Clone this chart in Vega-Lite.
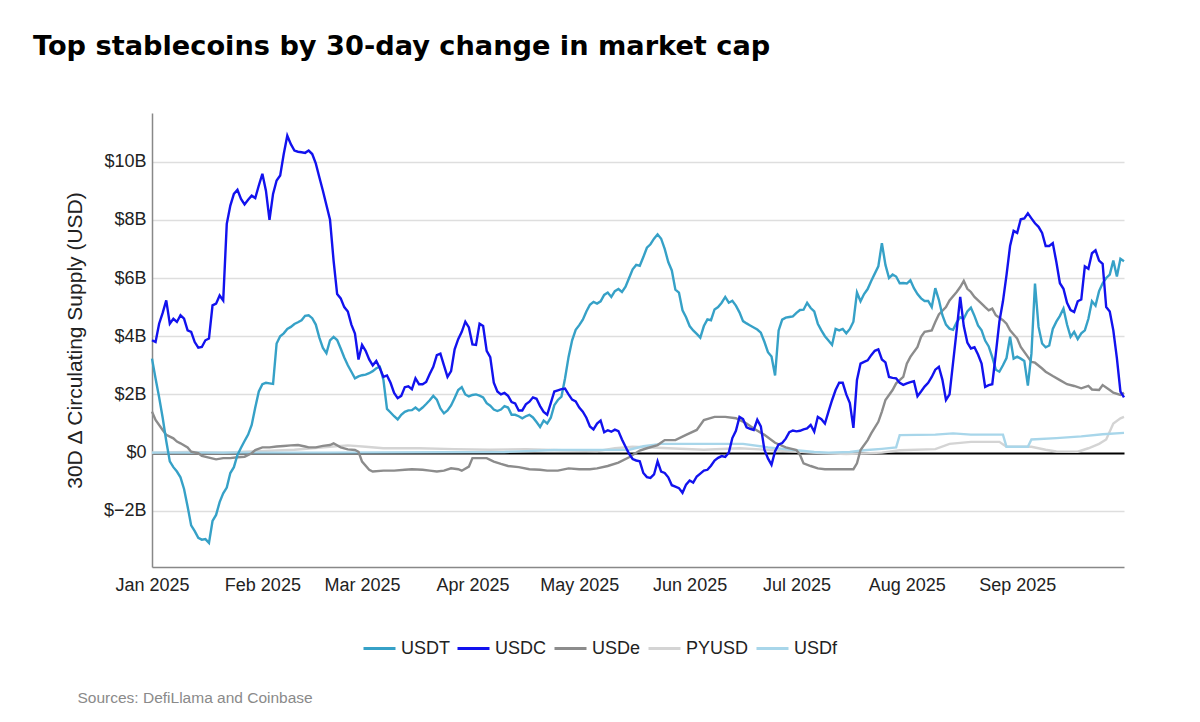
{
"$schema": "https://vega.github.io/schema/vega-lite/v6.json",
"width": 972, "height": 454,
"autosize": {"type": "none"},
"padding": {"left": 152, "top": 113, "right": 76, "bottom": 155},
"background": "white",
"title": {"text": "Top stablecoins by 30-day change in market cap", "anchor": "start", "frame": "group", "dx": -119, "offset": 52, "font": "DejaVu Sans", "fontSize": 27.2, "fontWeight": "bold", "color": "#000000"},
"config": {"view": {"stroke": null}, "font": "Liberation Sans"},
"data": {"format": {"parse": {"date": "date:'%Y-%j'"}}, "values": [
{"date":"2025-001","coin":"PYUSD","value":0.0},{"date":"2025-011","coin":"PYUSD","value":0.02},{"date":"2025-021","coin":"PYUSD","value":0.0},{"date":"2025-031","coin":"PYUSD","value":0.05},{"date":"2025-041","coin":"PYUSD","value":0.1},{"date":"2025-051","coin":"PYUSD","value":0.2},{"date":"2025-056","coin":"PYUSD","value":0.25},{"date":"2025-061","coin":"PYUSD","value":0.2},{"date":"2025-066","coin":"PYUSD","value":0.15},{"date":"2025-076","coin":"PYUSD","value":0.15},{"date":"2025-086","coin":"PYUSD","value":0.12},{"date":"2025-096","coin":"PYUSD","value":0.1},{"date":"2025-106","coin":"PYUSD","value":0.12},{"date":"2025-116","coin":"PYUSD","value":0.08},{"date":"2025-126","coin":"PYUSD","value":0.05},{"date":"2025-131","coin":"PYUSD","value":0.15},{"date":"2025-136","coin":"PYUSD","value":0.2},{"date":"2025-146","coin":"PYUSD","value":0.15},{"date":"2025-156","coin":"PYUSD","value":0.1},{"date":"2025-166","coin":"PYUSD","value":0.15},{"date":"2025-176","coin":"PYUSD","value":0.08},{"date":"2025-186","coin":"PYUSD","value":0.0},{"date":"2025-196","coin":"PYUSD","value":-0.05},{"date":"2025-206","coin":"PYUSD","value":0.0},{"date":"2025-211","coin":"PYUSD","value":0.08},{"date":"2025-221","coin":"PYUSD","value":0.12},{"date":"2025-225","coin":"PYUSD","value":0.3},{"date":"2025-231","coin":"PYUSD","value":0.37},{"date":"2025-239","coin":"PYUSD","value":0.37},{"date":"2025-241","coin":"PYUSD","value":0.2},{"date":"2025-248","coin":"PYUSD","value":0.2},{"date":"2025-252","coin":"PYUSD","value":0.1},{"date":"2025-255","coin":"PYUSD","value":0.04},{"date":"2025-261","coin":"PYUSD","value":0.03},{"date":"2025-264","coin":"PYUSD","value":0.15},{"date":"2025-265","coin":"PYUSD","value":0.2},{"date":"2025-267","coin":"PYUSD","value":0.3},{"date":"2025-269","coin":"PYUSD","value":0.45},{"date":"2025-271","coin":"PYUSD","value":1.0},{"date":"2025-273","coin":"PYUSD","value":1.18},{"date":"2025-274","coin":"PYUSD","value":1.23},
{"date":"2025-001","coin":"USDf","value":0.0},{"date":"2025-050","coin":"USDf","value":0.0},{"date":"2025-100","coin":"USDf","value":0.02},{"date":"2025-114","coin":"USDf","value":0.09},{"date":"2025-135","coin":"USDf","value":0.1},{"date":"2025-139","coin":"USDf","value":0.22},{"date":"2025-144","coin":"USDf","value":0.3},{"date":"2025-167","coin":"USDf","value":0.3},{"date":"2025-174","coin":"USDf","value":0.18},{"date":"2025-182","coin":"USDf","value":0.08},{"date":"2025-187","coin":"USDf","value":0.02},{"date":"2025-191","coin":"USDf","value":0.0},{"date":"2025-197","coin":"USDf","value":0.02},{"date":"2025-201","coin":"USDf","value":0.08},{"date":"2025-206","coin":"USDf","value":0.13},{"date":"2025-210","coin":"USDf","value":0.18},{"date":"2025-211","coin":"USDf","value":0.6},{"date":"2025-221","coin":"USDf","value":0.62},{"date":"2025-226","coin":"USDf","value":0.66},{"date":"2025-231","coin":"USDf","value":0.62},{"date":"2025-236","coin":"USDf","value":0.62},{"date":"2025-240","coin":"USDf","value":0.62},{"date":"2025-241","coin":"USDf","value":0.2},{"date":"2025-247","coin":"USDf","value":0.2},{"date":"2025-248","coin":"USDf","value":0.45},{"date":"2025-255","coin":"USDf","value":0.5},{"date":"2025-262","coin":"USDf","value":0.56},{"date":"2025-268","coin":"USDf","value":0.63},{"date":"2025-274","coin":"USDf","value":0.68},
{"date":"2025-001","coin":"USDe","value":1.41},{"date":"2025-002","coin":"USDe","value":1.12},{"date":"2025-004","coin":"USDe","value":0.78},{"date":"2025-005","coin":"USDe","value":0.61},{"date":"2025-007","coin":"USDe","value":0.49},{"date":"2025-008","coin":"USDe","value":0.38},{"date":"2025-009","coin":"USDe","value":0.32},{"date":"2025-011","coin":"USDe","value":0.18},{"date":"2025-012","coin":"USDe","value":0.03},{"date":"2025-014","coin":"USDe","value":-0.02},{"date":"2025-015","coin":"USDe","value":-0.11},{"date":"2025-017","coin":"USDe","value":-0.17},{"date":"2025-019","coin":"USDe","value":-0.23},{"date":"2025-021","coin":"USDe","value":-0.19},{"date":"2025-023","coin":"USDe","value":-0.19},{"date":"2025-025","coin":"USDe","value":-0.16},{"date":"2025-027","coin":"USDe","value":-0.14},{"date":"2025-029","coin":"USDe","value":-0.02},{"date":"2025-030","coin":"USDe","value":0.09},{"date":"2025-032","coin":"USDe","value":0.18},{"date":"2025-034","coin":"USDe","value":0.18},{"date":"2025-036","coin":"USDe","value":0.21},{"date":"2025-038","coin":"USDe","value":0.23},{"date":"2025-040","coin":"USDe","value":0.25},{"date":"2025-042","coin":"USDe","value":0.26},{"date":"2025-044","coin":"USDe","value":0.21},{"date":"2025-045","coin":"USDe","value":0.18},{"date":"2025-047","coin":"USDe","value":0.18},{"date":"2025-049","coin":"USDe","value":0.23},{"date":"2025-051","coin":"USDe","value":0.26},{"date":"2025-052","coin":"USDe","value":0.32},{"date":"2025-054","coin":"USDe","value":0.18},{"date":"2025-056","coin":"USDe","value":0.11},{"date":"2025-058","coin":"USDe","value":0.09},{"date":"2025-059","coin":"USDe","value":0.03},{"date":"2025-060","coin":"USDe","value":-0.31},{"date":"2025-062","coin":"USDe","value":-0.59},{"date":"2025-063","coin":"USDe","value":-0.65},{"date":"2025-066","coin":"USDe","value":-0.62},{"date":"2025-069","coin":"USDe","value":-0.62},{"date":"2025-072","coin":"USDe","value":-0.59},{"date":"2025-074","coin":"USDe","value":-0.57},{"date":"2025-077","coin":"USDe","value":-0.59},{"date":"2025-079","coin":"USDe","value":-0.62},{"date":"2025-081","coin":"USDe","value":-0.65},{"date":"2025-083","coin":"USDe","value":-0.62},{"date":"2025-085","coin":"USDe","value":-0.54},{"date":"2025-087","coin":"USDe","value":-0.57},{"date":"2025-088","coin":"USDe","value":-0.62},{"date":"2025-090","coin":"USDe","value":-0.48},{"date":"2025-091","coin":"USDe","value":-0.19},{"date":"2025-092","coin":"USDe","value":-0.19},{"date":"2025-095","coin":"USDe","value":-0.19},{"date":"2025-097","coin":"USDe","value":-0.31},{"date":"2025-099","coin":"USDe","value":-0.39},{"date":"2025-101","coin":"USDe","value":-0.46},{"date":"2025-104","coin":"USDe","value":-0.5},{"date":"2025-107","coin":"USDe","value":-0.57},{"date":"2025-110","coin":"USDe","value":-0.59},{"date":"2025-112","coin":"USDe","value":-0.62},{"date":"2025-115","coin":"USDe","value":-0.62},{"date":"2025-118","coin":"USDe","value":-0.54},{"date":"2025-121","coin":"USDe","value":-0.57},{"date":"2025-124","coin":"USDe","value":-0.57},{"date":"2025-126","coin":"USDe","value":-0.54},{"date":"2025-129","coin":"USDe","value":-0.46},{"date":"2025-132","coin":"USDe","value":-0.34},{"date":"2025-135","coin":"USDe","value":-0.16},{"date":"2025-138","coin":"USDe","value":0.07},{"date":"2025-140","coin":"USDe","value":0.15},{"date":"2025-143","coin":"USDe","value":0.26},{"date":"2025-145","coin":"USDe","value":0.43},{"date":"2025-148","coin":"USDe","value":0.43},{"date":"2025-151","coin":"USDe","value":0.61},{"date":"2025-154","coin":"USDe","value":0.78},{"date":"2025-156","coin":"USDe","value":1.12},{"date":"2025-159","coin":"USDe","value":1.23},{"date":"2025-162","coin":"USDe","value":1.23},{"date":"2025-165","coin":"USDe","value":1.18},{"date":"2025-168","coin":"USDe","value":1.0},{"date":"2025-170","coin":"USDe","value":0.83},{"date":"2025-173","coin":"USDe","value":0.61},{"date":"2025-176","coin":"USDe","value":0.34},{"date":"2025-179","coin":"USDe","value":0.18},{"date":"2025-182","coin":"USDe","value":0.09},{"date":"2025-183","coin":"USDe","value":-0.08},{"date":"2025-184","coin":"USDe","value":-0.37},{"date":"2025-186","coin":"USDe","value":-0.46},{"date":"2025-188","coin":"USDe","value":-0.54},{"date":"2025-190","coin":"USDe","value":-0.57},{"date":"2025-193","coin":"USDe","value":-0.57},{"date":"2025-196","coin":"USDe","value":-0.57},{"date":"2025-198","coin":"USDe","value":-0.57},{"date":"2025-199","coin":"USDe","value":-0.37},{"date":"2025-200","coin":"USDe","value":0.09},{"date":"2025-202","coin":"USDe","value":0.43},{"date":"2025-203","coin":"USDe","value":0.66},{"date":"2025-205","coin":"USDe","value":1.06},{"date":"2025-206","coin":"USDe","value":1.41},{"date":"2025-207","coin":"USDe","value":1.81},{"date":"2025-209","coin":"USDe","value":2.15},{"date":"2025-210","coin":"USDe","value":2.38},{"date":"2025-212","coin":"USDe","value":2.6},{"date":"2025-213","coin":"USDe","value":3.06},{"date":"2025-214","coin":"USDe","value":3.29},{"date":"2025-216","coin":"USDe","value":3.63},{"date":"2025-217","coin":"USDe","value":3.98},{"date":"2025-218","coin":"USDe","value":4.15},{"date":"2025-220","coin":"USDe","value":4.2},{"date":"2025-221","coin":"USDe","value":4.49},{"date":"2025-222","coin":"USDe","value":4.75},{"date":"2025-224","coin":"USDe","value":5.0},{"date":"2025-225","coin":"USDe","value":5.23},{"date":"2025-227","coin":"USDe","value":5.52},{"date":"2025-228","coin":"USDe","value":5.69},{"date":"2025-229","coin":"USDe","value":5.9},{"date":"2025-230","coin":"USDe","value":5.63},{"date":"2025-231","coin":"USDe","value":5.52},{"date":"2025-232","coin":"USDe","value":5.35},{"date":"2025-234","coin":"USDe","value":5.12},{"date":"2025-235","coin":"USDe","value":5.0},{"date":"2025-236","coin":"USDe","value":4.89},{"date":"2025-237","coin":"USDe","value":4.95},{"date":"2025-238","coin":"USDe","value":4.72},{"date":"2025-240","coin":"USDe","value":4.55},{"date":"2025-241","coin":"USDe","value":4.43},{"date":"2025-242","coin":"USDe","value":4.2},{"date":"2025-244","coin":"USDe","value":3.92},{"date":"2025-245","coin":"USDe","value":3.63},{"date":"2025-247","coin":"USDe","value":3.29},{"date":"2025-248","coin":"USDe","value":3.12},{"date":"2025-249","coin":"USDe","value":3.09},{"date":"2025-251","coin":"USDe","value":2.89},{"date":"2025-252","coin":"USDe","value":2.78},{"date":"2025-254","coin":"USDe","value":2.63},{"date":"2025-256","coin":"USDe","value":2.49},{"date":"2025-258","coin":"USDe","value":2.35},{"date":"2025-260","coin":"USDe","value":2.29},{"date":"2025-262","coin":"USDe","value":2.21},{"date":"2025-264","coin":"USDe","value":2.29},{"date":"2025-265","coin":"USDe","value":2.17},{"date":"2025-267","coin":"USDe","value":2.15},{"date":"2025-268","coin":"USDe","value":2.32},{"date":"2025-270","coin":"USDe","value":2.15},{"date":"2025-271","coin":"USDe","value":2.06},{"date":"2025-273","coin":"USDe","value":1.98},{"date":"2025-274","coin":"USDe","value":2.06},
{"date":"2025-001","coin":"USDT","value":3.23},{"date":"2025-002","coin":"USDT","value":2.55},{"date":"2025-003","coin":"USDT","value":1.9},{"date":"2025-004","coin":"USDT","value":1.2},{"date":"2025-005","coin":"USDT","value":0.4},{"date":"2025-006","coin":"USDT","value":-0.3},{"date":"2025-007","coin":"USDT","value":-0.5},{"date":"2025-008","coin":"USDT","value":-0.65},{"date":"2025-009","coin":"USDT","value":-0.85},{"date":"2025-010","coin":"USDT","value":-1.25},{"date":"2025-011","coin":"USDT","value":-1.85},{"date":"2025-012","coin":"USDT","value":-2.5},{"date":"2025-013","coin":"USDT","value":-2.7},{"date":"2025-014","coin":"USDT","value":-2.93},{"date":"2025-015","coin":"USDT","value":-2.99},{"date":"2025-016","coin":"USDT","value":-2.97},{"date":"2025-017","coin":"USDT","value":-3.1},{"date":"2025-018","coin":"USDT","value":-2.35},{"date":"2025-019","coin":"USDT","value":-2.14},{"date":"2025-020","coin":"USDT","value":-1.7},{"date":"2025-021","coin":"USDT","value":-1.4},{"date":"2025-022","coin":"USDT","value":-1.2},{"date":"2025-023","coin":"USDT","value":-0.7},{"date":"2025-024","coin":"USDT","value":-0.5},{"date":"2025-025","coin":"USDT","value":-0.08},{"date":"2025-026","coin":"USDT","value":0.17},{"date":"2025-027","coin":"USDT","value":0.4},{"date":"2025-028","coin":"USDT","value":0.62},{"date":"2025-029","coin":"USDT","value":0.95},{"date":"2025-030","coin":"USDT","value":1.55},{"date":"2025-031","coin":"USDT","value":2.1},{"date":"2025-032","coin":"USDT","value":2.35},{"date":"2025-033","coin":"USDT","value":2.4},{"date":"2025-034","coin":"USDT","value":2.38},{"date":"2025-035","coin":"USDT","value":2.36},{"date":"2025-036","coin":"USDT","value":3.75},{"date":"2025-037","coin":"USDT","value":4.0},{"date":"2025-038","coin":"USDT","value":4.1},{"date":"2025-039","coin":"USDT","value":4.25},{"date":"2025-040","coin":"USDT","value":4.32},{"date":"2025-041","coin":"USDT","value":4.42},{"date":"2025-042","coin":"USDT","value":4.48},{"date":"2025-043","coin":"USDT","value":4.55},{"date":"2025-044","coin":"USDT","value":4.7},{"date":"2025-045","coin":"USDT","value":4.72},{"date":"2025-046","coin":"USDT","value":4.62},{"date":"2025-047","coin":"USDT","value":4.4},{"date":"2025-048","coin":"USDT","value":3.95},{"date":"2025-049","coin":"USDT","value":3.6},{"date":"2025-050","coin":"USDT","value":3.42},{"date":"2025-051","coin":"USDT","value":3.86},{"date":"2025-052","coin":"USDT","value":3.98},{"date":"2025-053","coin":"USDT","value":3.87},{"date":"2025-054","coin":"USDT","value":3.58},{"date":"2025-055","coin":"USDT","value":3.27},{"date":"2025-056","coin":"USDT","value":3.0},{"date":"2025-057","coin":"USDT","value":2.78},{"date":"2025-058","coin":"USDT","value":2.55},{"date":"2025-059","coin":"USDT","value":2.62},{"date":"2025-060","coin":"USDT","value":2.66},{"date":"2025-061","coin":"USDT","value":2.68},{"date":"2025-062","coin":"USDT","value":2.73},{"date":"2025-063","coin":"USDT","value":2.8},{"date":"2025-064","coin":"USDT","value":2.9},{"date":"2025-065","coin":"USDT","value":2.95},{"date":"2025-066","coin":"USDT","value":2.5},{"date":"2025-067","coin":"USDT","value":1.5},{"date":"2025-068","coin":"USDT","value":1.38},{"date":"2025-069","coin":"USDT","value":1.25},{"date":"2025-070","coin":"USDT","value":1.14},{"date":"2025-071","coin":"USDT","value":1.3},{"date":"2025-072","coin":"USDT","value":1.4},{"date":"2025-073","coin":"USDT","value":1.45},{"date":"2025-074","coin":"USDT","value":1.46},{"date":"2025-075","coin":"USDT","value":1.55},{"date":"2025-076","coin":"USDT","value":1.45},{"date":"2025-077","coin":"USDT","value":1.55},{"date":"2025-078","coin":"USDT","value":1.67},{"date":"2025-079","coin":"USDT","value":1.8},{"date":"2025-080","coin":"USDT","value":1.95},{"date":"2025-081","coin":"USDT","value":1.82},{"date":"2025-082","coin":"USDT","value":1.52},{"date":"2025-083","coin":"USDT","value":1.35},{"date":"2025-084","coin":"USDT","value":1.45},{"date":"2025-085","coin":"USDT","value":1.62},{"date":"2025-086","coin":"USDT","value":1.88},{"date":"2025-087","coin":"USDT","value":2.15},{"date":"2025-088","coin":"USDT","value":2.25},{"date":"2025-089","coin":"USDT","value":2.0},{"date":"2025-090","coin":"USDT","value":1.93},{"date":"2025-091","coin":"USDT","value":1.98},{"date":"2025-092","coin":"USDT","value":2.0},{"date":"2025-093","coin":"USDT","value":1.96},{"date":"2025-094","coin":"USDT","value":1.9},{"date":"2025-095","coin":"USDT","value":1.7},{"date":"2025-096","coin":"USDT","value":1.61},{"date":"2025-097","coin":"USDT","value":1.48},{"date":"2025-098","coin":"USDT","value":1.43},{"date":"2025-099","coin":"USDT","value":1.48},{"date":"2025-100","coin":"USDT","value":1.6},{"date":"2025-101","coin":"USDT","value":1.55},{"date":"2025-102","coin":"USDT","value":1.3},{"date":"2025-103","coin":"USDT","value":1.3},{"date":"2025-104","coin":"USDT","value":1.25},{"date":"2025-105","coin":"USDT","value":1.18},{"date":"2025-106","coin":"USDT","value":1.25},{"date":"2025-107","coin":"USDT","value":1.3},{"date":"2025-108","coin":"USDT","value":1.21},{"date":"2025-109","coin":"USDT","value":1.05},{"date":"2025-110","coin":"USDT","value":0.88},{"date":"2025-111","coin":"USDT","value":1.1},{"date":"2025-112","coin":"USDT","value":1.0},{"date":"2025-113","coin":"USDT","value":1.2},{"date":"2025-114","coin":"USDT","value":1.63},{"date":"2025-115","coin":"USDT","value":1.81},{"date":"2025-116","coin":"USDT","value":1.92},{"date":"2025-117","coin":"USDT","value":2.55},{"date":"2025-118","coin":"USDT","value":3.29},{"date":"2025-119","coin":"USDT","value":3.86},{"date":"2025-120","coin":"USDT","value":4.22},{"date":"2025-121","coin":"USDT","value":4.38},{"date":"2025-122","coin":"USDT","value":4.57},{"date":"2025-123","coin":"USDT","value":4.85},{"date":"2025-124","coin":"USDT","value":5.08},{"date":"2025-125","coin":"USDT","value":5.18},{"date":"2025-126","coin":"USDT","value":5.12},{"date":"2025-127","coin":"USDT","value":5.2},{"date":"2025-128","coin":"USDT","value":5.42},{"date":"2025-129","coin":"USDT","value":5.5},{"date":"2025-130","coin":"USDT","value":5.35},{"date":"2025-131","coin":"USDT","value":5.55},{"date":"2025-132","coin":"USDT","value":5.62},{"date":"2025-133","coin":"USDT","value":5.52},{"date":"2025-134","coin":"USDT","value":5.7},{"date":"2025-135","coin":"USDT","value":6.0},{"date":"2025-136","coin":"USDT","value":6.3},{"date":"2025-137","coin":"USDT","value":6.45},{"date":"2025-138","coin":"USDT","value":6.42},{"date":"2025-139","coin":"USDT","value":6.72},{"date":"2025-140","coin":"USDT","value":7.04},{"date":"2025-141","coin":"USDT","value":7.16},{"date":"2025-142","coin":"USDT","value":7.35},{"date":"2025-143","coin":"USDT","value":7.5},{"date":"2025-144","coin":"USDT","value":7.35},{"date":"2025-145","coin":"USDT","value":7.0},{"date":"2025-146","coin":"USDT","value":6.55},{"date":"2025-147","coin":"USDT","value":6.26},{"date":"2025-148","coin":"USDT","value":5.6},{"date":"2025-149","coin":"USDT","value":5.5},{"date":"2025-150","coin":"USDT","value":4.89},{"date":"2025-151","coin":"USDT","value":4.65},{"date":"2025-152","coin":"USDT","value":4.35},{"date":"2025-153","coin":"USDT","value":4.2},{"date":"2025-154","coin":"USDT","value":4.08},{"date":"2025-155","coin":"USDT","value":3.95},{"date":"2025-156","coin":"USDT","value":4.35},{"date":"2025-157","coin":"USDT","value":4.58},{"date":"2025-158","coin":"USDT","value":4.55},{"date":"2025-159","coin":"USDT","value":4.92},{"date":"2025-160","coin":"USDT","value":5.0},{"date":"2025-161","coin":"USDT","value":5.15},{"date":"2025-162","coin":"USDT","value":5.35},{"date":"2025-163","coin":"USDT","value":5.15},{"date":"2025-164","coin":"USDT","value":5.22},{"date":"2025-165","coin":"USDT","value":5.05},{"date":"2025-166","coin":"USDT","value":4.82},{"date":"2025-167","coin":"USDT","value":4.52},{"date":"2025-168","coin":"USDT","value":4.44},{"date":"2025-169","coin":"USDT","value":4.37},{"date":"2025-170","coin":"USDT","value":4.3},{"date":"2025-171","coin":"USDT","value":4.23},{"date":"2025-172","coin":"USDT","value":4.12},{"date":"2025-173","coin":"USDT","value":3.81},{"date":"2025-174","coin":"USDT","value":3.45},{"date":"2025-175","coin":"USDT","value":3.3},{"date":"2025-176","coin":"USDT","value":2.65},{"date":"2025-177","coin":"USDT","value":4.2},{"date":"2025-178","coin":"USDT","value":4.57},{"date":"2025-179","coin":"USDT","value":4.64},{"date":"2025-180","coin":"USDT","value":4.66},{"date":"2025-181","coin":"USDT","value":4.68},{"date":"2025-182","coin":"USDT","value":4.8},{"date":"2025-183","coin":"USDT","value":4.9},{"date":"2025-184","coin":"USDT","value":4.91},{"date":"2025-185","coin":"USDT","value":5.15},{"date":"2025-186","coin":"USDT","value":4.97},{"date":"2025-187","coin":"USDT","value":4.85},{"date":"2025-188","coin":"USDT","value":4.43},{"date":"2025-189","coin":"USDT","value":4.2},{"date":"2025-190","coin":"USDT","value":4.0},{"date":"2025-191","coin":"USDT","value":3.85},{"date":"2025-192","coin":"USDT","value":3.7},{"date":"2025-193","coin":"USDT","value":4.25},{"date":"2025-194","coin":"USDT","value":4.2},{"date":"2025-195","coin":"USDT","value":4.25},{"date":"2025-196","coin":"USDT","value":4.1},{"date":"2025-197","coin":"USDT","value":4.25},{"date":"2025-198","coin":"USDT","value":4.5},{"date":"2025-199","coin":"USDT","value":5.5},{"date":"2025-200","coin":"USDT","value":5.2},{"date":"2025-201","coin":"USDT","value":5.45},{"date":"2025-202","coin":"USDT","value":5.62},{"date":"2025-203","coin":"USDT","value":5.9},{"date":"2025-204","coin":"USDT","value":6.15},{"date":"2025-205","coin":"USDT","value":6.4},{"date":"2025-206","coin":"USDT","value":7.2},{"date":"2025-207","coin":"USDT","value":6.45},{"date":"2025-208","coin":"USDT","value":6.0},{"date":"2025-209","coin":"USDT","value":6.12},{"date":"2025-210","coin":"USDT","value":6.05},{"date":"2025-211","coin":"USDT","value":5.82},{"date":"2025-212","coin":"USDT","value":5.83},{"date":"2025-213","coin":"USDT","value":5.81},{"date":"2025-214","coin":"USDT","value":5.92},{"date":"2025-215","coin":"USDT","value":5.65},{"date":"2025-216","coin":"USDT","value":5.45},{"date":"2025-217","coin":"USDT","value":5.3},{"date":"2025-218","coin":"USDT","value":5.21},{"date":"2025-219","coin":"USDT","value":5.21},{"date":"2025-220","coin":"USDT","value":5.0},{"date":"2025-221","coin":"USDT","value":5.65},{"date":"2025-222","coin":"USDT","value":5.25},{"date":"2025-223","coin":"USDT","value":4.72},{"date":"2025-224","coin":"USDT","value":4.4},{"date":"2025-225","coin":"USDT","value":4.26},{"date":"2025-226","coin":"USDT","value":4.22},{"date":"2025-227","coin":"USDT","value":4.48},{"date":"2025-228","coin":"USDT","value":4.65},{"date":"2025-229","coin":"USDT","value":4.6},{"date":"2025-230","coin":"USDT","value":4.85},{"date":"2025-231","coin":"USDT","value":4.98},{"date":"2025-232","coin":"USDT","value":4.7},{"date":"2025-233","coin":"USDT","value":4.37},{"date":"2025-234","coin":"USDT","value":4.2},{"date":"2025-235","coin":"USDT","value":3.85},{"date":"2025-236","coin":"USDT","value":3.65},{"date":"2025-237","coin":"USDT","value":3.28},{"date":"2025-238","coin":"USDT","value":2.85},{"date":"2025-239","coin":"USDT","value":2.78},{"date":"2025-240","coin":"USDT","value":3.0},{"date":"2025-241","coin":"USDT","value":3.25},{"date":"2025-242","coin":"USDT","value":3.98},{"date":"2025-243","coin":"USDT","value":3.23},{"date":"2025-244","coin":"USDT","value":3.3},{"date":"2025-245","coin":"USDT","value":3.23},{"date":"2025-246","coin":"USDT","value":3.15},{"date":"2025-247","coin":"USDT","value":2.3},{"date":"2025-248","coin":"USDT","value":3.4},{"date":"2025-249","coin":"USDT","value":5.81},{"date":"2025-250","coin":"USDT","value":4.32},{"date":"2025-251","coin":"USDT","value":3.75},{"date":"2025-252","coin":"USDT","value":3.62},{"date":"2025-253","coin":"USDT","value":3.68},{"date":"2025-254","coin":"USDT","value":4.25},{"date":"2025-255","coin":"USDT","value":4.5},{"date":"2025-256","coin":"USDT","value":4.7},{"date":"2025-257","coin":"USDT","value":4.95},{"date":"2025-258","coin":"USDT","value":4.4},{"date":"2025-259","coin":"USDT","value":3.98},{"date":"2025-260","coin":"USDT","value":4.15},{"date":"2025-261","coin":"USDT","value":3.9},{"date":"2025-262","coin":"USDT","value":4.1},{"date":"2025-263","coin":"USDT","value":4.2},{"date":"2025-264","coin":"USDT","value":4.6},{"date":"2025-265","coin":"USDT","value":5.2},{"date":"2025-266","coin":"USDT","value":5.05},{"date":"2025-267","coin":"USDT","value":5.55},{"date":"2025-268","coin":"USDT","value":5.82},{"date":"2025-269","coin":"USDT","value":6.0},{"date":"2025-270","coin":"USDT","value":6.12},{"date":"2025-271","coin":"USDT","value":6.6},{"date":"2025-272","coin":"USDT","value":6.05},{"date":"2025-273","coin":"USDT","value":6.66},{"date":"2025-274","coin":"USDT","value":6.58},
{"date":"2025-001","coin":"USDC","value":3.86},{"date":"2025-002","coin":"USDC","value":3.8},{"date":"2025-003","coin":"USDC","value":4.43},{"date":"2025-004","coin":"USDC","value":4.8},{"date":"2025-005","coin":"USDC","value":5.23},{"date":"2025-006","coin":"USDC","value":4.43},{"date":"2025-007","coin":"USDC","value":4.6},{"date":"2025-008","coin":"USDC","value":4.49},{"date":"2025-009","coin":"USDC","value":4.72},{"date":"2025-010","coin":"USDC","value":4.6},{"date":"2025-011","coin":"USDC","value":4.2},{"date":"2025-012","coin":"USDC","value":4.15},{"date":"2025-013","coin":"USDC","value":3.8},{"date":"2025-014","coin":"USDC","value":3.61},{"date":"2025-015","coin":"USDC","value":3.63},{"date":"2025-016","coin":"USDC","value":3.86},{"date":"2025-017","coin":"USDC","value":3.92},{"date":"2025-018","coin":"USDC","value":5.06},{"date":"2025-019","coin":"USDC","value":5.12},{"date":"2025-020","coin":"USDC","value":5.4},{"date":"2025-021","coin":"USDC","value":5.23},{"date":"2025-022","coin":"USDC","value":7.86},{"date":"2025-023","coin":"USDC","value":8.49},{"date":"2025-024","coin":"USDC","value":8.89},{"date":"2025-025","coin":"USDC","value":9.03},{"date":"2025-026","coin":"USDC","value":8.72},{"date":"2025-027","coin":"USDC","value":8.53},{"date":"2025-028","coin":"USDC","value":8.69},{"date":"2025-029","coin":"USDC","value":8.83},{"date":"2025-030","coin":"USDC","value":8.75},{"date":"2025-031","coin":"USDC","value":9.18},{"date":"2025-032","coin":"USDC","value":9.58},{"date":"2025-033","coin":"USDC","value":9.0},{"date":"2025-034","coin":"USDC","value":8.0},{"date":"2025-035","coin":"USDC","value":8.89},{"date":"2025-036","coin":"USDC","value":9.35},{"date":"2025-037","coin":"USDC","value":9.52},{"date":"2025-038","coin":"USDC","value":10.26},{"date":"2025-039","coin":"USDC","value":10.89},{"date":"2025-040","coin":"USDC","value":10.6},{"date":"2025-041","coin":"USDC","value":10.38},{"date":"2025-042","coin":"USDC","value":10.34},{"date":"2025-043","coin":"USDC","value":10.32},{"date":"2025-044","coin":"USDC","value":10.3},{"date":"2025-045","coin":"USDC","value":10.38},{"date":"2025-046","coin":"USDC","value":10.26},{"date":"2025-047","coin":"USDC","value":9.94},{"date":"2025-048","coin":"USDC","value":9.46},{"date":"2025-049","coin":"USDC","value":9.0},{"date":"2025-050","coin":"USDC","value":8.5},{"date":"2025-051","coin":"USDC","value":8.0},{"date":"2025-052","coin":"USDC","value":6.6},{"date":"2025-053","coin":"USDC","value":5.45},{"date":"2025-054","coin":"USDC","value":5.3},{"date":"2025-055","coin":"USDC","value":5.0},{"date":"2025-056","coin":"USDC","value":4.85},{"date":"2025-057","coin":"USDC","value":4.4},{"date":"2025-058","coin":"USDC","value":4.09},{"date":"2025-059","coin":"USDC","value":3.2},{"date":"2025-060","coin":"USDC","value":3.7},{"date":"2025-061","coin":"USDC","value":3.5},{"date":"2025-062","coin":"USDC","value":3.2},{"date":"2025-063","coin":"USDC","value":3.0},{"date":"2025-064","coin":"USDC","value":3.15},{"date":"2025-065","coin":"USDC","value":2.9},{"date":"2025-066","coin":"USDC","value":2.6},{"date":"2025-067","coin":"USDC","value":2.65},{"date":"2025-068","coin":"USDC","value":2.4},{"date":"2025-069","coin":"USDC","value":2.05},{"date":"2025-070","coin":"USDC","value":1.87},{"date":"2025-071","coin":"USDC","value":1.95},{"date":"2025-072","coin":"USDC","value":2.25},{"date":"2025-073","coin":"USDC","value":2.28},{"date":"2025-074","coin":"USDC","value":2.18},{"date":"2025-075","coin":"USDC","value":2.55},{"date":"2025-076","coin":"USDC","value":2.35},{"date":"2025-077","coin":"USDC","value":2.35},{"date":"2025-078","coin":"USDC","value":2.43},{"date":"2025-079","coin":"USDC","value":2.7},{"date":"2025-080","coin":"USDC","value":2.95},{"date":"2025-081","coin":"USDC","value":3.35},{"date":"2025-082","coin":"USDC","value":3.4},{"date":"2025-083","coin":"USDC","value":3.0},{"date":"2025-084","coin":"USDC","value":2.6},{"date":"2025-085","coin":"USDC","value":2.8},{"date":"2025-086","coin":"USDC","value":3.55},{"date":"2025-087","coin":"USDC","value":3.9},{"date":"2025-088","coin":"USDC","value":4.15},{"date":"2025-089","coin":"USDC","value":4.5},{"date":"2025-090","coin":"USDC","value":4.3},{"date":"2025-091","coin":"USDC","value":3.72},{"date":"2025-092","coin":"USDC","value":3.7},{"date":"2025-093","coin":"USDC","value":4.43},{"date":"2025-094","coin":"USDC","value":4.35},{"date":"2025-095","coin":"USDC","value":3.5},{"date":"2025-096","coin":"USDC","value":3.28},{"date":"2025-097","coin":"USDC","value":2.4},{"date":"2025-098","coin":"USDC","value":2.1},{"date":"2025-099","coin":"USDC","value":2.0},{"date":"2025-100","coin":"USDC","value":2.05},{"date":"2025-101","coin":"USDC","value":1.95},{"date":"2025-102","coin":"USDC","value":1.74},{"date":"2025-103","coin":"USDC","value":1.69},{"date":"2025-104","coin":"USDC","value":1.45},{"date":"2025-105","coin":"USDC","value":1.45},{"date":"2025-106","coin":"USDC","value":1.66},{"date":"2025-107","coin":"USDC","value":1.75},{"date":"2025-108","coin":"USDC","value":1.9},{"date":"2025-109","coin":"USDC","value":1.85},{"date":"2025-110","coin":"USDC","value":1.6},{"date":"2025-111","coin":"USDC","value":1.4},{"date":"2025-112","coin":"USDC","value":1.3},{"date":"2025-113","coin":"USDC","value":1.7},{"date":"2025-114","coin":"USDC","value":2.1},{"date":"2025-115","coin":"USDC","value":2.14},{"date":"2025-116","coin":"USDC","value":2.18},{"date":"2025-117","coin":"USDC","value":2.2},{"date":"2025-118","coin":"USDC","value":2.0},{"date":"2025-119","coin":"USDC","value":1.82},{"date":"2025-120","coin":"USDC","value":1.76},{"date":"2025-121","coin":"USDC","value":1.55},{"date":"2025-122","coin":"USDC","value":1.41},{"date":"2025-123","coin":"USDC","value":1.2},{"date":"2025-124","coin":"USDC","value":0.9},{"date":"2025-125","coin":"USDC","value":0.8},{"date":"2025-126","coin":"USDC","value":1.0},{"date":"2025-127","coin":"USDC","value":1.1},{"date":"2025-128","coin":"USDC","value":0.7},{"date":"2025-129","coin":"USDC","value":0.77},{"date":"2025-130","coin":"USDC","value":0.72},{"date":"2025-131","coin":"USDC","value":0.79},{"date":"2025-132","coin":"USDC","value":0.74},{"date":"2025-133","coin":"USDC","value":0.45},{"date":"2025-134","coin":"USDC","value":0.2},{"date":"2025-135","coin":"USDC","value":-0.04},{"date":"2025-136","coin":"USDC","value":-0.22},{"date":"2025-137","coin":"USDC","value":-0.27},{"date":"2025-138","coin":"USDC","value":-0.3},{"date":"2025-139","coin":"USDC","value":-0.7},{"date":"2025-140","coin":"USDC","value":-0.84},{"date":"2025-141","coin":"USDC","value":-0.87},{"date":"2025-142","coin":"USDC","value":-0.75},{"date":"2025-143","coin":"USDC","value":-0.3},{"date":"2025-144","coin":"USDC","value":-0.65},{"date":"2025-145","coin":"USDC","value":-0.7},{"date":"2025-146","coin":"USDC","value":-0.85},{"date":"2025-147","coin":"USDC","value":-1.12},{"date":"2025-148","coin":"USDC","value":-1.17},{"date":"2025-149","coin":"USDC","value":-1.22},{"date":"2025-150","coin":"USDC","value":-1.38},{"date":"2025-151","coin":"USDC","value":-1.1},{"date":"2025-152","coin":"USDC","value":-0.96},{"date":"2025-153","coin":"USDC","value":-1.03},{"date":"2025-154","coin":"USDC","value":-0.82},{"date":"2025-155","coin":"USDC","value":-0.72},{"date":"2025-156","coin":"USDC","value":-0.62},{"date":"2025-157","coin":"USDC","value":-0.59},{"date":"2025-158","coin":"USDC","value":-0.45},{"date":"2025-159","coin":"USDC","value":-0.27},{"date":"2025-160","coin":"USDC","value":-0.18},{"date":"2025-161","coin":"USDC","value":-0.12},{"date":"2025-162","coin":"USDC","value":-0.15},{"date":"2025-163","coin":"USDC","value":0.0},{"date":"2025-164","coin":"USDC","value":0.5},{"date":"2025-165","coin":"USDC","value":0.75},{"date":"2025-166","coin":"USDC","value":1.23},{"date":"2025-167","coin":"USDC","value":1.15},{"date":"2025-168","coin":"USDC","value":0.87},{"date":"2025-169","coin":"USDC","value":0.82},{"date":"2025-170","coin":"USDC","value":0.78},{"date":"2025-171","coin":"USDC","value":1.13},{"date":"2025-172","coin":"USDC","value":0.9},{"date":"2025-173","coin":"USDC","value":0.1},{"date":"2025-174","coin":"USDC","value":-0.2},{"date":"2025-175","coin":"USDC","value":-0.42},{"date":"2025-176","coin":"USDC","value":0.05},{"date":"2025-177","coin":"USDC","value":0.28},{"date":"2025-178","coin":"USDC","value":0.33},{"date":"2025-179","coin":"USDC","value":0.48},{"date":"2025-180","coin":"USDC","value":0.7},{"date":"2025-181","coin":"USDC","value":0.76},{"date":"2025-182","coin":"USDC","value":0.73},{"date":"2025-183","coin":"USDC","value":0.75},{"date":"2025-184","coin":"USDC","value":0.8},{"date":"2025-185","coin":"USDC","value":0.83},{"date":"2025-186","coin":"USDC","value":0.95},{"date":"2025-187","coin":"USDC","value":0.72},{"date":"2025-188","coin":"USDC","value":1.23},{"date":"2025-189","coin":"USDC","value":1.15},{"date":"2025-190","coin":"USDC","value":1.0},{"date":"2025-191","coin":"USDC","value":1.41},{"date":"2025-192","coin":"USDC","value":1.8},{"date":"2025-193","coin":"USDC","value":2.15},{"date":"2025-194","coin":"USDC","value":2.4},{"date":"2025-195","coin":"USDC","value":2.4},{"date":"2025-196","coin":"USDC","value":2.0},{"date":"2025-197","coin":"USDC","value":1.7},{"date":"2025-198","coin":"USDC","value":0.85},{"date":"2025-199","coin":"USDC","value":2.5},{"date":"2025-200","coin":"USDC","value":3.06},{"date":"2025-201","coin":"USDC","value":3.12},{"date":"2025-202","coin":"USDC","value":3.17},{"date":"2025-203","coin":"USDC","value":3.35},{"date":"2025-204","coin":"USDC","value":3.5},{"date":"2025-205","coin":"USDC","value":3.55},{"date":"2025-206","coin":"USDC","value":3.2},{"date":"2025-207","coin":"USDC","value":3.1},{"date":"2025-208","coin":"USDC","value":2.6},{"date":"2025-209","coin":"USDC","value":2.57},{"date":"2025-210","coin":"USDC","value":2.55},{"date":"2025-211","coin":"USDC","value":2.4},{"date":"2025-212","coin":"USDC","value":2.33},{"date":"2025-213","coin":"USDC","value":2.38},{"date":"2025-214","coin":"USDC","value":2.42},{"date":"2025-215","coin":"USDC","value":2.45},{"date":"2025-216","coin":"USDC","value":1.94},{"date":"2025-217","coin":"USDC","value":2.1},{"date":"2025-218","coin":"USDC","value":2.27},{"date":"2025-219","coin":"USDC","value":2.4},{"date":"2025-220","coin":"USDC","value":2.6},{"date":"2025-221","coin":"USDC","value":2.85},{"date":"2025-222","coin":"USDC","value":2.95},{"date":"2025-223","coin":"USDC","value":2.5},{"date":"2025-224","coin":"USDC","value":1.81},{"date":"2025-225","coin":"USDC","value":2.0},{"date":"2025-226","coin":"USDC","value":3.1},{"date":"2025-227","coin":"USDC","value":4.2},{"date":"2025-228","coin":"USDC","value":5.35},{"date":"2025-229","coin":"USDC","value":4.35},{"date":"2025-230","coin":"USDC","value":3.78},{"date":"2025-231","coin":"USDC","value":3.58},{"date":"2025-232","coin":"USDC","value":3.62},{"date":"2025-233","coin":"USDC","value":3.37},{"date":"2025-234","coin":"USDC","value":3.06},{"date":"2025-235","coin":"USDC","value":2.26},{"date":"2025-236","coin":"USDC","value":2.32},{"date":"2025-237","coin":"USDC","value":2.35},{"date":"2025-238","coin":"USDC","value":3.4},{"date":"2025-239","coin":"USDC","value":4.5},{"date":"2025-240","coin":"USDC","value":5.2},{"date":"2025-241","coin":"USDC","value":6.1},{"date":"2025-242","coin":"USDC","value":7.1},{"date":"2025-243","coin":"USDC","value":7.62},{"date":"2025-244","coin":"USDC","value":7.55},{"date":"2025-245","coin":"USDC","value":8.02},{"date":"2025-246","coin":"USDC","value":8.05},{"date":"2025-247","coin":"USDC","value":8.22},{"date":"2025-248","coin":"USDC","value":8.05},{"date":"2025-249","coin":"USDC","value":7.88},{"date":"2025-250","coin":"USDC","value":7.76},{"date":"2025-251","coin":"USDC","value":7.55},{"date":"2025-252","coin":"USDC","value":7.1},{"date":"2025-253","coin":"USDC","value":7.1},{"date":"2025-254","coin":"USDC","value":7.2},{"date":"2025-255","coin":"USDC","value":6.55},{"date":"2025-256","coin":"USDC","value":5.82},{"date":"2025-257","coin":"USDC","value":5.63},{"date":"2025-258","coin":"USDC","value":5.15},{"date":"2025-259","coin":"USDC","value":4.9},{"date":"2025-260","coin":"USDC","value":4.83},{"date":"2025-261","coin":"USDC","value":5.2},{"date":"2025-262","coin":"USDC","value":5.26},{"date":"2025-263","coin":"USDC","value":6.4},{"date":"2025-264","coin":"USDC","value":6.32},{"date":"2025-265","coin":"USDC","value":6.85},{"date":"2025-266","coin":"USDC","value":6.95},{"date":"2025-267","coin":"USDC","value":6.6},{"date":"2025-268","coin":"USDC","value":6.49},{"date":"2025-269","coin":"USDC","value":5.0},{"date":"2025-270","coin":"USDC","value":4.85},{"date":"2025-271","coin":"USDC","value":4.2},{"date":"2025-272","coin":"USDC","value":3.25},{"date":"2025-273","coin":"USDC","value":2.1},{"date":"2025-274","coin":"USDC","value":1.9}
]},
"mark": {"type": "line", "strokeWidth": 2.4, "interpolate": "linear"},
"encoding": {
  "x": {"field": "date", "type": "temporal",
    "scale": {"domain": [{"year": 2025, "month": 1, "date": 1}, {"year": 2025, "month": 10, "date": 1}]},
    "axis": {"values": [{"year": 2025, "month": 1, "date": 1}, {"year": 2025, "month": 2, "date": 1}, {"year": 2025, "month": 3, "date": 1}, {"year": 2025, "month": 4, "date": 1}, {"year": 2025, "month": 5, "date": 1}, {"year": 2025, "month": 6, "date": 1}, {"year": 2025, "month": 7, "date": 1}, {"year": 2025, "month": 8, "date": 1}, {"year": 2025, "month": 9, "date": 1}],
      "format": "%b %Y", "grid": false, "ticks": false, "tickSize": 0, "labelFontSize": 18, "labelColor": "#222222", "labelPadding": 9, "labelFlush": false, "labelOverlap": false,
      "domainColor": "#888888", "domainWidth": 1.5,
      "title": "Sources: DefiLlama and Coinbase", "titleX": -75, "titleY": 130, "titleAlign": "left", "titleAnchor": "start", "titleBaseline": "middle", "titleFontSize": 15.5, "titleFontWeight": "normal", "titleColor": "#8a8a8a"}},
  "y": {"field": "value", "type": "quantitative",
    "scale": {"domain": [-3.93, 11.67], "nice": false, "zero": false},
    "axis": {"values": [-2, 0, 2, 4, 6, 8, 10],
      "labelExpr": "datum.value == 0 ? '$0' : '$' + format(datum.value, 'd') + 'B'",
      "ticks": false, "tickSize": 0, "labelFontSize": 18, "labelColor": "#222222", "labelPadding": 6,
      "grid": true,
      "gridColor": {"condition": {"test": "datum.value === 0", "value": "#000000"}, "value": "#dedede"},
      "gridWidth": {"condition": {"test": "datum.value === 0", "value": 2}, "value": 1.5},
      "domainColor": "#888888", "domainWidth": 1.5,
      "title": "30D Δ Circulating Supply (USD)", "titleFontSize": 21, "titleFontWeight": "normal", "titleColor": "#222222", "titlePadding": 18}},
  "color": {"field": "coin", "type": "nominal",
    "scale": {"domain": ["USDT", "USDC", "USDe", "PYUSD", "USDf"], "range": ["#36a1c7", "#1212ee", "#8c8c8c", "#d4d4d4", "#a8d6ea"]},
    "legend": {"orient": "none", "legendX": 210, "legendY": 518, "direction": "horizontal", "title": null, "gridAlign": "none",
      "symbolType": "stroke", "symbolSize": 1024, "symbolStrokeWidth": 3, "labelFontSize": 18, "labelColor": "#222222",
      "labelOffset": 4, "columnPadding": 1, "padding": 0}}
}
}
